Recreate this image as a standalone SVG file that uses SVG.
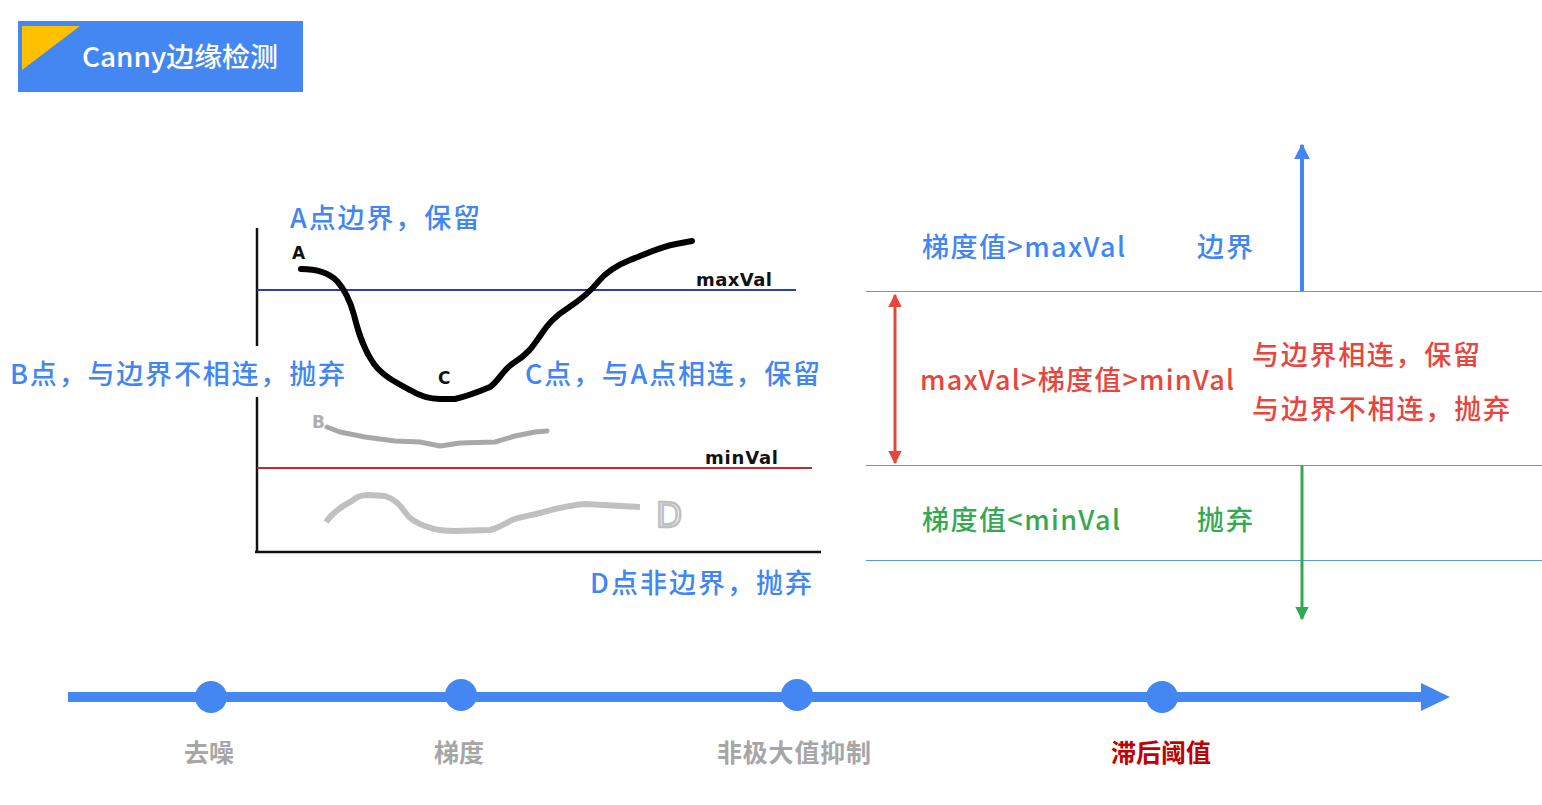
<svg xmlns="http://www.w3.org/2000/svg" width="1542" height="805" viewBox="0 0 1542 805">
<defs>
<style>
.cjk{font-family:"Noto Sans CJK SC","Noto Sans",sans-serif;}
.lbl{font-family:"Noto Sans CJK SC","Noto Sans",sans-serif;font-size:27px;font-weight:500;}
.blue{fill:#4285f4;}
.red{fill:#e8453c;}
.green{fill:#34a853;}
.hand{font-family:"DejaVu Sans",sans-serif;font-weight:bold;fill:#111;}
.step{font-family:"Noto Sans CJK SC",sans-serif;font-size:25px;font-weight:bold;text-anchor:middle;fill:#a6a6a6;}
.band{stroke:#5b9bd5;stroke-width:1;}
</style>
<marker id="hBlue" viewBox="0 0 10 10" refX="9" refY="5" markerWidth="4" markerHeight="4.5" orient="auto" markerUnits="strokeWidth"><path d="M0,0 L10,5 L0,10 z" fill="#4285f4"/></marker>
<marker id="hRed" viewBox="0 0 10 10" refX="9" refY="5" markerWidth="4.5" markerHeight="4.5" orient="auto-start-reverse" markerUnits="strokeWidth"><path d="M0,0 L10,5 L0,10 z" fill="#e8453c"/></marker>
<marker id="hGreen" viewBox="0 0 10 10" refX="9" refY="5" markerWidth="4.5" markerHeight="4.5" orient="auto" markerUnits="strokeWidth"><path d="M0,0 L10,5 L0,10 z" fill="#34a853"/></marker>
</defs>
<rect width="1542" height="805" fill="#ffffff"/>

<g id="title">
<rect x="18" y="21" width="285" height="71" fill="#4487f3"/>
<polygon points="22,26 80,26 22,70" fill="#ffc000"/>
<text x="82" y="67" class="cjk" font-size="27" font-weight="500" fill="#ffffff" textLength="196" lengthAdjust="spacingAndGlyphs">Canny边缘检测</text>
</g>

<g id="chart">
<line x1="257" y1="228" x2="257" y2="346" stroke="#111" stroke-width="2.5"/>
<line x1="257" y1="397" x2="257" y2="553" stroke="#111" stroke-width="2.5"/>
<line x1="255" y1="552" x2="821" y2="552" stroke="#111" stroke-width="2.5"/>
<line x1="257" y1="290" x2="796" y2="290" stroke="#2b3cb8" stroke-width="2"/>
<line x1="257" y1="468" x2="812" y2="468" stroke="#c02a2f" stroke-width="2"/>
<text x="696" y="286" class="hand" font-size="18" textLength="76">maxVal</text>
<text x="705" y="464" class="hand" font-size="18" textLength="73">minVal</text>
<text x="292" y="259" class="hand" font-size="17">A</text>
<text x="438" y="384" class="hand" font-size="17">C</text>
<text x="312" y="428" font-family="DejaVu Sans,sans-serif" font-weight="bold" font-size="17" fill="#b0b0b0">B</text>
<text x="656" y="527" font-family="DejaVu Sans,sans-serif" font-size="34" fill="none" stroke="#c0c0c0" stroke-width="2.5">D</text>
<path d="M301,269 C315,269 328,272 337,281 C345,290 350,300 354,315 C359,335 364,350 374,364 C383,376 395,382 410,390 C420,396 428,399 440,399 L455,399 C468,396 478,392 490,387 C500,380 502,370 515,362 C528,354 533,346 540,336 C548,324 555,316 568,308 C580,300 590,292 598,282 C606,272 615,266 630,260 C648,253 660,247 676,244 L692,241" fill="none" stroke="#000" stroke-width="6" stroke-linecap="round" stroke-linejoin="round"/>
<path d="M327,427 L340,432 L365,437 L395,441 L420,442 L440,446 L460,443 L495,442 L515,436 L535,432 L547,431" fill="none" stroke="#a8a8a8" stroke-width="5" stroke-linecap="round" stroke-linejoin="round"/>
<path d="M326,522 C333,512 342,506 352,501 C356,497 360,495 368,495 L385,496 C395,499 400,505 405,512 C410,520 418,524 428,527 C435,530 442,531 455,531 L490,530 C498,528 505,524 512,520 C520,517 528,516 540,513 C555,509 568,505 585,504 L640,507" fill="none" stroke="#c0c0c0" stroke-width="6" stroke-linejoin="round"/>
</g>

<g id="chart-labels">
<text x="290" y="228" class="lbl blue" textLength="190">A点边界，保留</text>
<text x="10" y="384" class="lbl blue" textLength="335">B点，与边界不相连，抛弃</text>
<text x="525" y="384" class="lbl blue" textLength="295">C点，与A点相连，保留</text>
<text x="590" y="593" class="lbl blue" textLength="222">D点非边界，抛弃</text>
</g>

<g id="bands">
<line x1="866" y1="291.5" x2="1542" y2="291.5" class="band"/>
<line x1="866" y1="465.5" x2="1542" y2="465.5" class="band"/>
<line x1="866" y1="560.5" x2="1542" y2="560.5" class="band"/>
</g>

<g id="connectors">
<line x1="1302" y1="291" x2="1302" y2="145" stroke="#4285f4" stroke-width="4" marker-end="url(#hBlue)"/>
<line x1="895" y1="295" x2="895" y2="463" stroke="#e8453c" stroke-width="3" marker-start="url(#hRed)" marker-end="url(#hRed)"/>
<line x1="1302" y1="466" x2="1302" y2="619" stroke="#34a853" stroke-width="3" marker-end="url(#hGreen)"/>
</g>

<g id="band-high">
<text x="922" y="257" class="lbl blue" textLength="203">梯度值&gt;maxVal</text>
<text x="1197" y="257" class="lbl blue" textLength="56">边界</text>
</g>
<g id="band-mid">
<text x="920" y="390" class="lbl red" textLength="314">maxVal&gt;梯度值&gt;minVal</text>
<text x="1252" y="365" class="lbl red" textLength="228">与边界相连，保留</text>
<text x="1252" y="419" class="lbl red" textLength="258">与边界不相连，抛弃</text>
</g>
<g id="band-low">
<text x="922" y="530" class="lbl green" textLength="198">梯度值&lt;minVal</text>
<text x="1197" y="530" class="lbl green" textLength="56">抛弃</text>
</g>

<g id="timeline">
<line x1="68" y1="697" x2="1424" y2="697" stroke="#4487f3" stroke-width="10"/>
<polygon points="1421,683 1450,697 1421,711" fill="#4487f3"/>
</g>
<g id="step-denoise"><circle cx="211" cy="697" r="16" fill="#4487f3"/><text x="209" y="762" class="step">去噪</text></g>
<g id="step-gradient"><circle cx="461" cy="695" r="16" fill="#4487f3"/><text x="459" y="762" class="step">梯度</text></g>
<g id="step-nms"><circle cx="797" cy="695" r="16" fill="#4487f3"/><text x="794" y="762" class="step" textLength="154">非极大值抑制</text></g>
<g id="step-hysteresis"><circle cx="1162" cy="697" r="16" fill="#4487f3"/><text x="1161" y="762" class="step" style="fill:#c00000">滞后阈值</text></g>
</svg>
